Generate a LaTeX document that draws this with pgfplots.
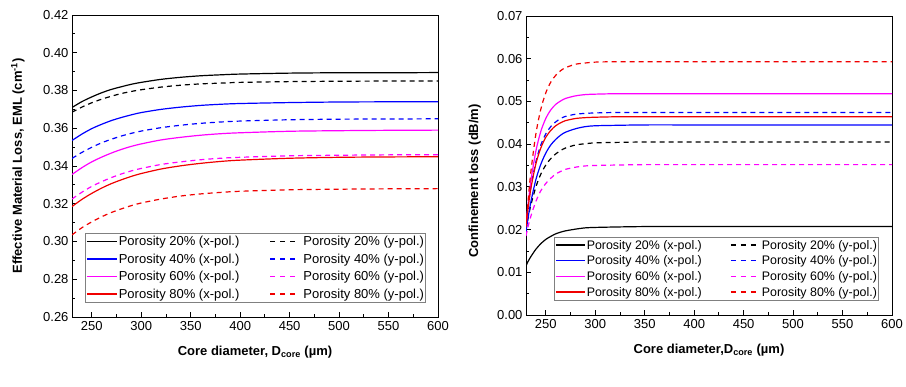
\documentclass[border=0pt]{standalone}
\usepackage{fontspec}
\setmainfont{Liberation Sans}
\newfontfamily\serifff{Liberation Serif}
\usepackage{pgfplots}
\pgfplotsset{compat=1.18}
\definecolor{cblue}{RGB}{0,0,255}
\definecolor{cmag}{RGB}{255,0,255}
\definecolor{cred}{RGB}{240,0,0}
\newcommand\LX[2]{\textcolor{#1}{\rule[3.5pt]{#2}{1.4pt}}\hspace{2pt}}
\newcommand\LY[2]{\textcolor{#1}{\rule[3.5pt]{5pt}{1.4pt}\hspace{5pt}\rule[3.5pt]{5pt}{1.4pt}\hspace{5pt}\rule[3.5pt]{5pt}{1.4pt}}\hspace{#2}}
\pgfplotsset{
  common/.style={
    scale only axis, width=366pt,
    xmin=230, xmax=600,
    xtick={250,300,...,600},
    minor x tick num=1, minor y tick num=1,
    tick align=inside, xtick pos=bottom, ytick pos=left,
    major tick length=5pt, minor tick length=3pt,
    tick label style={font=\fontsize{13}{13}\selectfont},
    label style={font=\bfseries\fontsize{13}{15}\selectfont},
    /pgf/number format/assume math mode=true,
    xticklabel style={/pgf/number format/fixed, yshift=-1pt},
    yticklabel style={/pgf/number format/.cd, fixed, fixed zerofill, precision=2},
    scaled y ticks=false,
    axis line style={line width=0.9pt},
    every tick/.style={line width=0.8pt, black},
    legend columns=2,
    legend cell align=left,
    legend image code/.code={},
    every axis plot/.append style={line width=1.2pt, smooth},
    xlabel style={at={(axis description cs:0.5,0)}, anchor=center, yshift=-35pt},
  },
  xp/.style={solid},
  yp/.style={dash pattern=on 5pt off 4pt},
}
\begin{document}
\begin{tikzpicture}
\path[use as bounding box] (0pt,0pt) rectangle (906pt,387pt);
% ---------------- (a) ----------------
\begin{axis}[common,
  at={(72pt,70pt)}, anchor=south west, height=302pt,
  ymin=0.26, ymax=0.42, ytick={0.26,0.28,...,0.421},
  xlabel={Core diameter, D\textsubscript{core} (µm)},
  ylabel={Effective Material Loss, EML (cm\textsuperscript{-1})},
  ylabel style={at={(axis description cs:-0.148,0.5)}, anchor=center},
  legend style={at={(axis description cs:0.0355,0.046)}, anchor=south west,
    draw=gray, line width=0.6pt, inner xsep=0pt, inner ysep=1pt,
    font=\fontsize{13}{13}\selectfont, row sep=2.6pt,
    nodes={inner xsep=1.5pt, inner ysep=2pt},
    /tikz/every even column/.append style={column sep=28pt}},
]
\addplot[color=black, xp] coordinates {(230,0.3710)(240,0.3741)(250,0.3766)(260,0.3788)(270,0.3806)(280,0.3820)(290,0.3833)(300,0.3843)(320,0.3859)(340,0.3870)(360,0.3878)(380,0.3883)(400,0.3887)(450,0.3892)(500,0.3894)(550,0.3894)(600,0.3895)};
\addlegendentry{\LX{black}{30pt}Porosity 20\% (x-pol.)}
\addplot[color=black, yp] coordinates {(230,0.3685)(240,0.3712)(250,0.3735)(260,0.3754)(270,0.3770)(280,0.3784)(290,0.3795)(300,0.3804)(320,0.3818)(340,0.3828)(360,0.3835)(380,0.3839)(400,0.3843)(450,0.3847)(500,0.3849)(550,0.3850)(600,0.3850)};
\addlegendentry{\LY{black}{8pt}Porosity 20\% (y-pol.)}
\addplot[color=cblue, xp] coordinates {(230,0.3535)(240,0.3569)(250,0.3598)(260,0.3621)(270,0.3641)(280,0.3657)(290,0.3671)(300,0.3683)(320,0.3700)(340,0.3712)(360,0.3721)(380,0.3727)(400,0.3731)(450,0.3736)(500,0.3739)(550,0.3740)(600,0.3740)};
\addlegendentry{\LX{cblue}{30pt}Porosity 40\% (x-pol.)}
\addplot[color=cblue, yp] coordinates {(230,0.3440)(240,0.3472)(250,0.3499)(260,0.3523)(270,0.3542)(280,0.3559)(290,0.3573)(300,0.3585)(320,0.3603)(340,0.3616)(360,0.3626)(380,0.3633)(400,0.3638)(450,0.3645)(500,0.3648)(550,0.3649)(600,0.3650)};
\addlegendentry{\LY{cblue}{8pt}Porosity 40\% (y-pol.)}
\addplot[color=cmag, xp] coordinates {(230,0.3355)(240,0.3391)(250,0.3422)(260,0.3447)(270,0.3469)(280,0.3488)(290,0.3504)(300,0.3517)(320,0.3538)(340,0.3552)(360,0.3563)(380,0.3571)(400,0.3576)(450,0.3584)(500,0.3587)(550,0.3589)(600,0.3590)};
\addlegendentry{\LX{cmag}{30pt}Porosity 60\% (x-pol.)}
\addplot[color=cmag, yp] coordinates {(230,0.3225)(240,0.3261)(250,0.3292)(260,0.3317)(270,0.3339)(280,0.3358)(290,0.3374)(300,0.3387)(320,0.3408)(340,0.3422)(360,0.3433)(380,0.3441)(400,0.3446)(450,0.3454)(500,0.3457)(550,0.3459)(600,0.3460)};
\addlegendentry{\LY{cmag}{8pt}Porosity 60\% (y-pol.)}
\addplot[color=cred, xp] coordinates {(230,0.3185)(240,0.3223)(250,0.3255)(260,0.3283)(270,0.3307)(280,0.3327)(290,0.3345)(300,0.3360)(320,0.3384)(340,0.3401)(360,0.3414)(380,0.3424)(400,0.3431)(450,0.3441)(500,0.3446)(550,0.3448)(600,0.3449)};
\addlegendentry{\LX{cred}{30pt}Porosity 80\% (x-pol.)}
\addplot[color=cred, yp] coordinates {(230,0.3035)(240,0.3073)(250,0.3104)(260,0.3131)(270,0.3154)(280,0.3173)(290,0.3190)(300,0.3204)(320,0.3225)(340,0.3241)(360,0.3252)(380,0.3260)(400,0.3266)(450,0.3274)(500,0.3277)(550,0.3279)(600,0.3280)};
\addlegendentry{\LY{cred}{8pt}Porosity 80\% (y-pol.)}
\node[font=\serifff\fontsize{18}{18}\selectfont] at (axis description cs:0.5,0) [yshift=-59pt] {(a)};
\end{axis}
% ---------------- (b) ----------------
\begin{axis}[common,
  at={(526pt,72pt)}, anchor=south west, height=299pt,
  ymin=0, ymax=0.07, ytick={0,0.01,...,0.071},
  xlabel={Core diameter,D\textsubscript{core} (µm)},
  ylabel={Confinement loss (dB/m)},
  ylabel style={at={(axis description cs:-0.14,0.448)}, anchor=center},
  legend style={at={(axis description cs:0.0765,0.047)}, anchor=south west,
    draw=gray, line width=0.6pt, inner xsep=0pt, inner ysep=1pt,
    font=\fontsize{12.4}{12.4}\selectfont, row sep=1.2pt,
    nodes={inner xsep=1.5pt, inner ysep=2pt},
    /tikz/every even column/.append style={column sep=26pt}},
]
\addplot[color=black, xp] coordinates {(230,0.0115)(232,0.0125)(235,0.0137)(240,0.0154)(245,0.0167)(250,0.0177)(255,0.0184)(260,0.0190)(265,0.0194)(270,0.0197)(280,0.0201)(290,0.0204)(300,0.0205)(320,0.0206)(350,0.0207)(400,0.0207)(500,0.0207)(600,0.0207)};
\addlegendentry{\LX{black}{29pt}Porosity 20\% (x-pol.)}
\addplot[color=black, yp] coordinates {(230,0.0200)(232,0.0226)(235,0.0258)(240,0.0300)(245,0.0330)(250,0.0351)(255,0.0366)(260,0.0377)(265,0.0385)(270,0.0391)(280,0.0398)(290,0.0401)(300,0.0403)(320,0.0404)(350,0.0405)(400,0.0405)(500,0.0405)(600,0.0405)};
\addlegendentry{\LY{black}{6pt}Porosity 20\% (y-pol.)}
\addplot[color=cblue, xp] coordinates {(230,0.0195)(232,0.0226)(235,0.0266)(240,0.0317)(245,0.0353)(250,0.0379)(255,0.0398)(260,0.0411)(265,0.0421)(270,0.0428)(280,0.0436)(290,0.0441)(300,0.0443)(320,0.0444)(350,0.0445)(400,0.0445)(500,0.0445)(600,0.0445)};
\addlegendentry{\LX{cblue}{29pt}Porosity 40\% (x-pol.)}
\addplot[color=cblue, yp] coordinates {(230,0.0210)(232,0.0251)(235,0.0300)(240,0.0359)(245,0.0398)(250,0.0424)(255,0.0441)(260,0.0452)(265,0.0460)(270,0.0465)(280,0.0470)(290,0.0472)(300,0.0473)(320,0.0474)(350,0.0474)(400,0.0474)(500,0.0474)(600,0.0474)};
\addlegendentry{\LY{cblue}{6pt}Porosity 40\% (y-pol.)}
\addplot[color=cmag, xp] coordinates {(230,0.0210)(232,0.0257)(235,0.0315)(240,0.0384)(245,0.0430)(250,0.0460)(255,0.0480)(260,0.0493)(265,0.0501)(270,0.0507)(280,0.0513)(290,0.0516)(300,0.0517)(320,0.0518)(350,0.0518)(400,0.0518)(500,0.0518)(600,0.0518)};
\addlegendentry{\LX{cmag}{29pt}Porosity 60\% (x-pol.)}
\addplot[color=cmag, yp] coordinates {(230,0.0185)(232,0.0206)(235,0.0232)(240,0.0266)(245,0.0291)(250,0.0308)(255,0.0320)(260,0.0330)(265,0.0336)(270,0.0341)(280,0.0346)(290,0.0349)(300,0.0350)(320,0.0351)(350,0.0352)(400,0.0352)(500,0.0352)(600,0.0352)};
\addlegendentry{\LY{cmag}{6pt}Porosity 60\% (y-pol.)}
\addplot[color=cred, xp] coordinates {(230,0.0210)(232,0.0249)(235,0.0297)(240,0.0354)(245,0.0391)(250,0.0416)(255,0.0432)(260,0.0443)(265,0.0450)(270,0.0455)(280,0.0460)(290,0.0462)(300,0.0463)(320,0.0464)(350,0.0464)(400,0.0464)(500,0.0464)(600,0.0464)};
\addlegendentry{\LX{cred}{29pt}Porosity 80\% (x-pol.)}
\addplot[color=cred, yp] coordinates {(230,0.0205)(232,0.0265)(235,0.0337)(240,0.0424)(245,0.0482)(250,0.0520)(255,0.0545)(260,0.0561)(265,0.0572)(270,0.0579)(280,0.0587)(290,0.0590)(300,0.0592)(320,0.0593)(350,0.0593)(400,0.0593)(500,0.0593)(600,0.0593)};
\addlegendentry{\LY{cred}{6pt}Porosity 80\% (y-pol.)}
\node[font=\serifff\fontsize{18}{18}\selectfont] at (axis description cs:0.5,0) [yshift=-62pt] {(b)};
\end{axis}
\end{tikzpicture}
\end{document}
